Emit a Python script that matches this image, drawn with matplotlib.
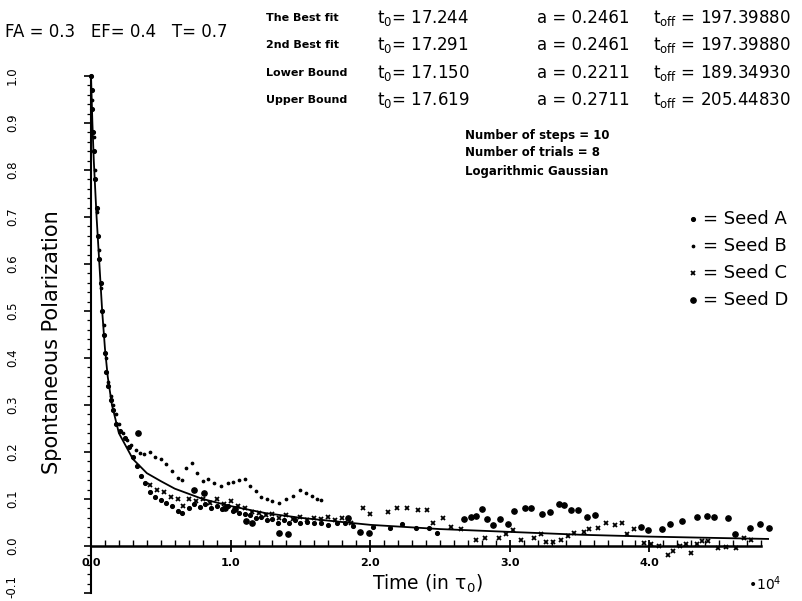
import numpy as np
import matplotlib
matplotlib.use("Agg")
from matplotlib import pyplot as plt
from matplotlib.ticker import FixedLocator, MultipleLocator
from matplotlib.transforms import ScaledTranslation

plt.rcParams['font.family'] = ['DejaVu Sans']
plt.rcParams['mathtext.default'] = 'regular'

# time in units of 1e4 tau_0
fit_t = [0, 0.01, 0.02, 0.04, 0.06, 0.08, 0.1, 0.12, 0.15, 0.2, 0.3, 0.4, 0.5, 0.6,
         0.8, 1.0, 1.25, 1.5, 2.0, 2.5, 3.0, 3.5, 4.0, 4.5, 4.85]
fit_p = [1.0, 0.9, 0.82, 0.7, 0.6, 0.5, 0.42, 0.36, 0.3, 0.24, 0.185, 0.155, 0.138, 0.122,
         0.1, 0.085, 0.07, 0.06, 0.045, 0.036, 0.03, 0.024, 0.02, 0.017, 0.015]

seed_a_t = [0, 0.005, 0.01, 0.015, 0.02, 0.03, 0.04, 0.05, 0.06, 0.07, 0.08, 0.09, 0.1, 0.11,
            0.12, 0.14, 0.16, 0.18, 0.21, 0.24, 0.27, 0.3, 0.33, 0.36, 0.39, 0.42, 0.46, 0.5,
            0.54, 0.58, 0.62, 0.65, 0.7, 0.74, 0.78, 0.82, 0.86, 0.9, 0.94, 0.98, 1.02, 1.06,
            1.1, 1.14, 1.18, 1.22, 1.26, 1.3, 1.34, 1.38, 1.42, 1.46, 1.5, 1.55, 1.6, 1.65,
            1.7, 1.76, 1.82, 1.88, 2.02, 2.14, 2.23, 2.33, 2.42, 2.48]
seed_a_p = [1.0, 0.97, 0.93, 0.88, 0.84, 0.78, 0.72, 0.66, 0.61, 0.56, 0.5, 0.45, 0.41, 0.37,
            0.34, 0.31, 0.29, 0.26, 0.245, 0.23, 0.21, 0.19, 0.17, 0.15, 0.135, 0.115, 0.105, 0.098,
            0.092, 0.085, 0.075, 0.07, 0.08, 0.09, 0.082, 0.09, 0.08, 0.085, 0.078, 0.085, 0.075, 0.07,
            0.068, 0.065, 0.06, 0.062, 0.055, 0.058, 0.05, 0.055, 0.05, 0.055, 0.05, 0.052, 0.048, 0.05,
            0.045, 0.048, 0.05, 0.043, 0.04, 0.038, 0.047, 0.038, 0.038, 0.028]

seed_b_t = [0, 0.01, 0.02, 0.03, 0.045, 0.06, 0.075, 0.09, 0.105, 0.12, 0.14, 0.16, 0.18, 0.2,
            0.23, 0.26, 0.29, 0.32, 0.35, 0.38, 0.42, 0.46, 0.5, 0.54, 0.58, 0.62, 0.65, 0.68,
            0.72, 0.76, 0.8, 0.84, 0.88, 0.93, 0.98, 1.02, 1.06, 1.1, 1.14, 1.18, 1.22, 1.26,
            1.3, 1.35, 1.4, 1.45, 1.5, 1.54, 1.58, 1.62, 1.65]
seed_b_p = [1.0, 0.95, 0.87, 0.8, 0.71, 0.63, 0.55, 0.47, 0.4, 0.35, 0.32, 0.3, 0.28, 0.26,
            0.24, 0.225, 0.215, 0.205, 0.198, 0.196, 0.2, 0.19, 0.185, 0.175, 0.16, 0.145, 0.14, 0.165,
            0.177, 0.156, 0.139, 0.143, 0.134, 0.128, 0.134, 0.137, 0.14, 0.143, 0.128, 0.117, 0.105, 0.1,
            0.096, 0.092, 0.1, 0.107, 0.12, 0.113, 0.107, 0.1, 0.097]

seed_c_t = [0.42, 0.47, 0.52, 0.57, 0.62, 0.66, 0.7, 0.75, 0.8, 0.85, 0.9, 0.95, 1.0, 1.05,
            1.1, 1.15, 1.2, 1.25, 1.3, 1.35, 1.4, 1.45, 1.5, 1.55, 1.6, 1.65, 1.7, 1.75,
            1.8, 1.86, 1.95, 2.0, 2.13, 2.19, 2.26, 2.34, 2.41, 2.45, 2.52, 2.58, 2.65, 2.76,
            2.82, 2.92, 2.97, 3.02, 3.08, 3.17, 3.22, 3.26, 3.31, 3.37, 3.42, 3.46, 3.53, 3.57,
            3.63, 3.69, 3.75, 3.8, 3.84, 3.89, 3.96, 4.01, 4.07, 4.13, 4.17, 4.22, 4.26, 4.3,
            4.34, 4.38, 4.42, 4.49, 4.55, 4.62, 4.68, 4.73]
seed_c_p = [0.13, 0.12, 0.115, 0.105, 0.1, 0.085, 0.1, 0.095, 0.1, 0.092, 0.1, 0.09, 0.095, 0.085,
            0.08, 0.073, 0.07, 0.065, 0.068, 0.06, 0.065, 0.058, 0.062, 0.055, 0.06, 0.057, 0.062, 0.055,
            0.06, 0.05, 0.081, 0.068, 0.072, 0.081, 0.081, 0.077, 0.077, 0.049, 0.06, 0.04, 0.036, 0.013,
            0.017, 0.017, 0.026, 0.034, 0.013, 0.017, 0.026, 0.009, 0.009, 0.013, 0.021, 0.028, 0.03, 0.036,
            0.038, 0.05, 0.045, 0.049, 0.026, 0.036, 0.006, 0.004, 0.0, -0.019, -0.011, 0.0, 0.004, -0.015,
            0.004, 0.011, 0.011, -0.004, -0.002, -0.004, 0.017, 0.013]

seed_d_t = [0.34, 0.74, 0.81, 0.96, 1.03, 1.11, 1.15, 1.35, 1.41, 1.84, 1.93, 1.99, 2.67, 2.72,
            2.76, 2.8, 2.84, 2.88, 2.93, 2.99, 3.03, 3.11, 3.15, 3.23, 3.29, 3.35, 3.39, 3.44,
            3.49, 3.55, 3.61, 3.94, 3.99, 4.09, 4.15, 4.23, 4.34, 4.41, 4.46, 4.56, 4.61, 4.72,
            4.79, 4.86]
seed_d_p = [0.24, 0.12, 0.113, 0.081, 0.079, 0.053, 0.049, 0.028, 0.025, 0.06, 0.03, 0.027, 0.058, 0.062,
            0.064, 0.079, 0.058, 0.045, 0.058, 0.047, 0.075, 0.081, 0.081, 0.068, 0.072, 0.089, 0.087, 0.077,
            0.077, 0.062, 0.066, 0.04, 0.034, 0.036, 0.047, 0.053, 0.062, 0.064, 0.062, 0.06, 0.026, 0.038,
            0.047, 0.038]

fit_rows = ["The Best fit", "2nd Best fit", "Lower Bound", "Upper Bound"]
fit_t0 = ["17.244", "17.291", "17.150", "17.619"]
fit_a = ["0.2461", "0.2461", "0.2211", "0.2711"]
fit_toff = ["197.39880", "197.39880", "189.34930", "205.44830"]
run_notes = ["Number of steps = 10", "Number of trials = 8", "Logarithmic Gaussian"]
seed_names = ["Seed A", "Seed B", "Seed C", "Seed D"]

W, H = 803, 601
fig = plt.figure(figsize=(W / 100, H / 100), dpi=100)
ax = fig.add_axes([91 / W, 1 - 593 / H, 712 / W, 517 / H])

ax.plot(fit_t, fit_p, color='black', lw=1.3, zorder=3)
ax.plot(seed_a_t, seed_a_p, ls='none', marker='o', ms=2.7, color='black', clip_on=False)
ax.plot(seed_b_t, seed_b_p, ls='none', marker='o', ms=1.7, color='black', clip_on=False)
ax.plot(seed_c_t, seed_c_p, ls='none', marker='x', ms=3.5, mew=1.3, color='black', clip_on=False)
ax.plot(seed_d_t, seed_d_p, ls='none', marker='o', ms=3.8, color='black', clip_on=False)

ax.set_xlim(0, 5.10)
ax.set_ylim(-0.1, 1.0)

for s in ['top', 'right']:
    ax.spines[s].set_visible(False)
ax.spines['bottom'].set_position(('data', 0))
ax.spines['bottom'].set_bounds(0, 4.8)
ax.spines['bottom'].set_linewidth(1.8)
ax.spines['left'].set_linewidth(1.5)

ax.xaxis.set_major_locator(FixedLocator([0, 1, 2, 3, 4]))
ax.xaxis.set_minor_locator(FixedLocator(np.arange(0, 4.81, 0.1)))
ax.set_xticklabels(["0.0", "1.0", "2.0", "3.0", "4.0"], fontsize=8, fontweight='bold')
ax.tick_params(axis='x', which='major', direction='inout', length=9, width=1.3, pad=4)
ax.tick_params(axis='x', which='minor', direction='in', length=4, width=1.0)

ax.yaxis.set_major_locator(MultipleLocator(0.1))
ax.yaxis.set_minor_locator(MultipleLocator(0.02))
yt = np.round(np.arange(-0.1, 1.01, 0.1), 1)
ax.set_yticks(yt)
ylabels = ax.set_yticklabels([f"{v:.1f}" for v in yt], rotation=90, va='center', fontsize=8.5)
ax.tick_params(axis='y', which='major', direction='out', length=5, width=1.2, pad=47)
ax.tick_params(axis='y', which='minor', direction='out', length=3, width=0.9)
# the -0.1 label sits at the very bottom edge, nudge it up a little
ylabels[0].set_transform(ylabels[0].get_transform()
                         + ScaledTranslation(0, 7 / 100, fig.dpi_scale_trans))


def fx(px):
    return px / W


def fy(py):
    return 1 - py / H


fig.text(fx(52), fy(342), "Spontaneous Polarization", rotation=90, fontsize=15,
         ha='center', va='center')
fig.text(fx(427), fy(584), r"Time (in $\tau_0$)", fontsize=13.5, ha='center', va='center')
fig.text(fx(748), fy(584), "•10$^4$", fontsize=10, ha='left', va='center')

fig.text(fx(5), fy(32), "FA = 0.3   EF= 0.4   T= 0.7", fontsize=12, ha='left', va='center')

row_y = [18, 45, 73, 100]
for i, y in enumerate(row_y):
    fig.text(fx(266), fy(y), fit_rows[i], fontsize=8, fontweight='bold', ha='left', va='center')
    fig.text(fx(377), fy(y), "t$_0$= " + fit_t0[i], fontsize=12, ha='left', va='center')
    fig.text(fx(537), fy(y), "a = " + fit_a[i], fontsize=12, ha='left', va='center')
    fig.text(fx(653), fy(y), "t$_{off}$ = " + fit_toff[i], fontsize=12, ha='left', va='center')

for i, note in enumerate(run_notes):
    fig.text(fx(465), fy(135 + 18 * i), note, fontsize=8.5, fontweight='bold',
             ha='left', va='center')

# legend drawn by hand: marker symbol followed by "= Seed X"
leg_y = [219, 246, 273, 300]
leg_style = [dict(marker='o', ms=2.7), dict(marker='o', ms=1.7),
             dict(marker='x', ms=3.5, mew=1.3), dict(marker='o', ms=3.8)]
for i, y in enumerate(leg_y):
    fig.lines.append(plt.Line2D([fx(693)], [fy(y)], transform=fig.transFigure, ls='none',
                                color='black', **leg_style[i]))
    fig.text(fx(703), fy(y), "= " + seed_names[i], fontsize=13, ha='left', va='center')

fig.savefig("out.png", dpi=100)
